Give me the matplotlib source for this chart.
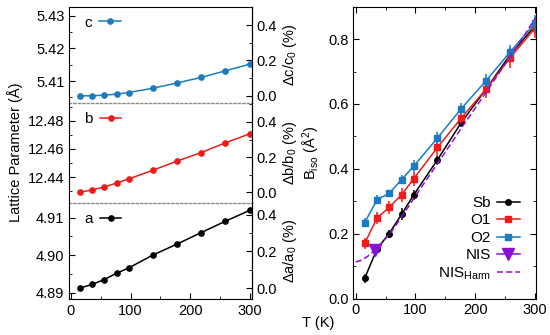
import matplotlib
matplotlib.use("Agg")
import matplotlib.pyplot as plt
from matplotlib.ticker import MultipleLocator
from matplotlib.lines import Line2D
import numpy as np

plt.rcParams['font.family'] = ['Liberation Sans', 'DejaVu Sans']
plt.rcParams['mathtext.fontset'] = 'custom'
plt.rcParams['mathtext.rm'] = 'Liberation Sans'
plt.rcParams['mathtext.it'] = 'Liberation Sans:italic'
plt.rcParams['font.size'] = 10.5

# ---------------- data ----------------
T = [15, 36, 56, 77, 97, 137, 177, 218, 258, 300]

a_lat = [4.8912, 4.8922, 4.8935, 4.8952, 4.8966, 4.9000, 4.9029, 4.9060, 4.9090, 4.9120]
b_lat = [12.4294, 12.4310, 12.4331, 12.4360, 12.4388, 12.4449, 12.4513, 12.4574, 12.4642, 12.4708]
c_lat = [5.4055, 5.4055, 5.4057, 5.4060, 5.4065, 5.4078, 5.4094, 5.4111, 5.4131, 5.4152]

B_Sb = [0.062, 0.154, 0.200, 0.260, 0.319, 0.428, 0.543, 0.645, 0.750, 0.840]
B_Sb_err = [0.015, 0.012, 0.012, 0.018, 0.015, 0.013, 0.015, 0.015, 0.018, 0.020]
B_O1 = [0.170, 0.249, 0.281, 0.320, 0.369, 0.466, 0.557, 0.645, 0.741, 0.833]
B_O1_err = [0.017, 0.019, 0.021, 0.021, 0.022, 0.026, 0.018, 0.026, 0.031, 0.031]
B_O2 = [0.234, 0.305, 0.324, 0.367, 0.408, 0.495, 0.586, 0.671, 0.759, 0.849]
B_O2_err = [0.013, 0.015, 0.012, 0.015, 0.018, 0.020, 0.018, 0.022, 0.023, 0.026]

T_NIS = [33]
B_NIS = [0.150]
B_NIS_err = [0.012]

T_harm = [0, 10, 20, 30, 40, 50, 60, 70, 80, 90, 100, 120, 140, 160, 180, 200, 220, 240, 260, 280, 300, 305]
B_harm = [0.113, 0.118, 0.130, 0.146, 0.165, 0.185, 0.206, 0.233, 0.260, 0.288, 0.316, 0.370,
          0.424, 0.479, 0.534, 0.587, 0.640, 0.695, 0.750, 0.805, 0.862, 0.875]

col_a = 'black'
col_b = '#ee1b1b'
col_c = '#1c7bbf'
col_nis = '#8a0fd6'

# ---------------- figure ----------------
fig = plt.figure(figsize=(5.5, 3.35), dpi=100)
W, H = 550, 335

def fr(x0, y0, x1, y1):
    return [x0 / W, 1 - y1 / H, (x1 - x0) / W, (y1 - y0) / H]

ax_c = fig.add_axes(fr(69.3, 6.5, 251.5, 103))
ax_b = fig.add_axes(fr(69.3, 103, 251.5, 202.7))
ax_a = fig.add_axes(fr(69.3, 202.7, 251.5, 299))
ax_r = fig.add_axes(fr(353.3, 6.7, 536, 298.5))

panels = [
    (ax_c, c_lat, col_c, 'c', (5.4033, 5.4328), [5.41, 5.42, 5.43], 0.005, r'$\Delta$c/c$_0$ (%)'),
    (ax_b, b_lat, col_b, 'b', (12.4220, 12.4925), [12.44, 12.46, 12.48], 0.01, r'$\Delta$b/b$_0$ (%)'),
    (ax_a, a_lat, col_a, 'a', (4.8883, 4.9140), [4.89, 4.90, 4.91], 0.005, r'$\Delta$a/a$_0$ (%)'),
]

for i, (ax, vals, col, name, ylim, yt, ymin, rlab) in enumerate(panels):
    ax.patch.set_visible(False)
    ax.plot(T, vals, '-o', color=col, ms=3.8, lw=1.1, label=name)
    ax.set_xlim(-2.5, 302.5)
    ax.set_ylim(*ylim)
    ax.set_yticks(yt)
    ax.set_yticklabels(['{:.2f}'.format(v) for v in yt])
    ax.yaxis.set_minor_locator(MultipleLocator(ymin))
    ax.xaxis.set_major_locator(MultipleLocator(100))
    ax.xaxis.set_minor_locator(MultipleLocator(50))
    ax.tick_params(which='both', direction='in', right=False, top=False)
    ax.tick_params(which='major', length=4)
    ax.tick_params(which='minor', length=2)
    v0 = vals[0]
    sec = ax.secondary_yaxis('right', functions=(lambda y, v0=v0: (y - v0) / v0 * 100,
                                                  lambda p, v0=v0: v0 * (1 + p / 100)))
    sec.set_yticks([0.0, 0.2, 0.4])
    sec.set_yticklabels(['0.0', '0.2', '0.4'])
    sec.yaxis.set_minor_locator(MultipleLocator(0.1))
    sec.tick_params(which='both', direction='in')
    sec.tick_params(which='major', length=4)
    sec.tick_params(which='minor', length=2)
    sec.set_ylabel(rlab, fontsize=10.5, labelpad=3)
    if i < 2:
        ax.tick_params(axis='x', which='both', bottom=False, labelbottom=False)
        ax.spines['bottom'].set_linestyle((0, (1.6, 1.6)))
        ax.spines['bottom'].set_color('#8c8c8c')
        ax.spines['bottom'].set_linewidth(1.0)
        ax.spines['bottom'].set_zorder(5)
    if i > 0:
        ax.spines['top'].set_visible(False)
    ax.legend(loc='upper left', bbox_to_anchor=(0.03, 1.0), frameon=False, markerfirst=False,
              handlelength=1.4, handletextpad=0.5, fontsize=11, borderaxespad=0.2)

fig.text(0.027, 1 - 152.75 / H, 'Lattice Parameter (Å)', rotation=90, ha='center', va='center', fontsize=10.5)

# ---------------- right panel ----------------
ax = ax_r
ax.errorbar(T, B_Sb, yerr=B_Sb_err, fmt='none', ecolor=col_a, elinewidth=1.1, capsize=0)
ax.plot(T, B_Sb, '-o', color=col_a, ms=4, lw=1.1)
ax.errorbar(T, B_O1, yerr=B_O1_err, fmt='none', ecolor=col_b, elinewidth=1.1, capsize=0)
ax.plot(T, B_O1, '-s', color=col_b, ms=4, lw=1.1)
ax.errorbar(T, B_O2, yerr=B_O2_err, fmt='none', ecolor=col_c, elinewidth=1.1, capsize=0)
ax.plot(T, B_O2, '-s', color=col_c, ms=4, lw=1.1)
ax.plot(T_harm, B_harm, '--', color=col_nis, lw=1.1, dashes=(4, 2))
ax.errorbar(T_NIS, B_NIS, yerr=B_NIS_err, fmt='v', color=col_nis, ms=8, elinewidth=1.1, capsize=0)

ax.set_xlim(-4, 302)
ax.set_ylim(0, 0.9)
ax.xaxis.set_major_locator(MultipleLocator(100))
ax.xaxis.set_minor_locator(MultipleLocator(50))
ax.set_yticks([0.0, 0.2, 0.4, 0.6, 0.8])
ax.yaxis.set_minor_locator(MultipleLocator(0.1))
ax.tick_params(which='both', direction='in', top=True, right=True)
ax.tick_params(which='major', length=4)
ax.tick_params(which='minor', length=2)
ax.set_ylabel(r'B$_{\rm iso}$ (Å$^2$)', fontsize=10.5, labelpad=4)

handles = [
    Line2D([], [], color=col_a, marker='o', ms=4, lw=1.1),
    Line2D([], [], color=col_b, marker='s', ms=4, lw=1.1),
    Line2D([], [], color=col_c, marker='s', ms=4, lw=1.1),
    Line2D([], [], color=col_nis, marker='v', ms=8, lw=1.1),
    Line2D([], [], color=col_nis, ls='--', dashes=(4, 2), lw=1.1),
]
labels = ['Sb', 'O1', 'O2', 'NIS', r'NIS$_{\rm Harm}$']
ax.legend(handles, labels, loc='lower right', bbox_to_anchor=(0.97, 0.02), frameon=False,
          markerfirst=False, handlelength=1.5, handletextpad=0.4, labelspacing=0.22,
          fontsize=11, borderaxespad=0.3)

fig.text(318 / W, 1 - 323 / H, 'T (K)', ha='center', va='center', fontsize=10.5)

fig.savefig('out.png', dpi=100)
